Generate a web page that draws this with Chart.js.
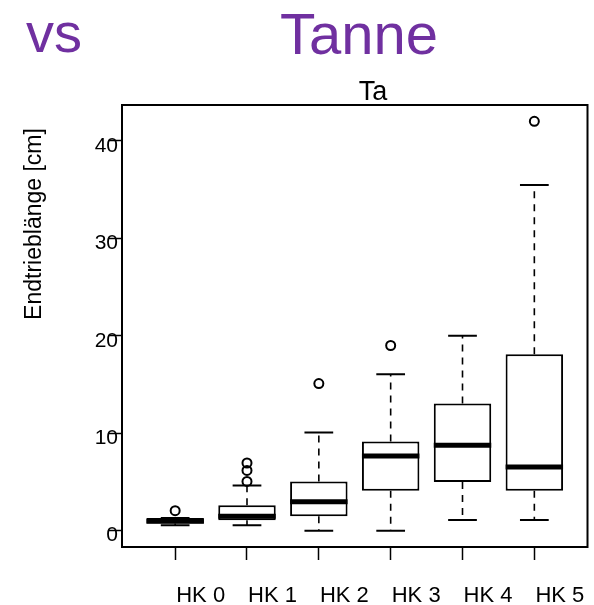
<!DOCTYPE html>
<html>
<head>
<meta charset="utf-8">
<script src="https://cdn.jsdelivr.net/npm/chart.js@4"></script>
<style>
  html, body { margin: 0; padding: 0; background: #fff; }
  #wrap { width: 594px; height: 605px; }
</style>
</head>
<body>
<div id="wrap"><canvas id="boxChart" width="594" height="605"></canvas></div>
<script>
  "use strict";

  const categories = ["HK 0", "HK 1", "HK 2", "HK 3", "HK 4", "HK 5"];
  const whiskerLow = [0.55, 0.55, 0, 0, 1.1, 1.1];
  const quart1 = [0.72, 1.06, 1.47, 4.1, 5.0, 4.1];
  const medians = [0.96, 1.47, 2.97, 7.65, 8.77, 6.52];
  const quart3 = [1.3, 2.6, 5.05, 9.15, 13.05, 18.1];
  const whiskerHigh = [1.3, 4.64, 10.07, 16.04, 20.0, 35.46];
  const outliers = [[2.05], [5.05, 6.18, 6.94], [15.09], [19.0], [], [42.0]];
  const yTicks = [0, 10, 20, 30, 40];

  const FONT = "'Liberation Sans', Arial, sans-serif";

  // Whisker, Median und Rahmen wie bei R-Boxplots nachzeichnen.
  const boxPartsPlugin = {
    id: "boxParts",
    afterDatasetsDraw(chart) {
      const ctx = chart.ctx;
      const xs = chart.scales.x;
      const ys = chart.scales.y;
      const bars = chart.getDatasetMeta(0).data;
      ctx.save();
      ctx.strokeStyle = "#000";
      categories.forEach((cat, i) => {
        const x = xs.getPixelForValue(i + 1);
        const half = bars[i].width / 2;
        const yHi = ys.getPixelForValue(whiskerHigh[i]);
        const yLo = ys.getPixelForValue(whiskerLow[i]);
        const yQ1 = ys.getPixelForValue(quart1[i]);
        const yQ3 = ys.getPixelForValue(quart3[i]);
        const yMed = ys.getPixelForValue(medians[i]);

        ctx.setLineDash([7, 6]);
        ctx.lineWidth = 1.6;
        ctx.beginPath();
        ctx.moveTo(x, yQ3);
        ctx.lineTo(x, yHi);
        ctx.moveTo(x, yQ1);
        ctx.lineTo(x, yLo);
        ctx.stroke();

        ctx.setLineDash([]);
        ctx.lineWidth = 2;
        ctx.beginPath();
        ctx.moveTo(x - half / 2, yHi);
        ctx.lineTo(x + half / 2, yHi);
        ctx.moveTo(x - half / 2, yLo);
        ctx.lineTo(x + half / 2, yLo);
        ctx.stroke();

        ctx.lineWidth = 5;
        ctx.beginPath();
        ctx.moveTo(x - half, yMed);
        ctx.lineTo(x + half, yMed);
        ctx.stroke();
      });

      const a = chart.chartArea;
      ctx.lineWidth = 2;
      ctx.strokeRect(a.left, a.top, a.right - a.left, a.bottom - a.top);

      ctx.fillStyle = "#000";
      ctx.textBaseline = "alphabetic";
      ctx.textAlign = "center";
      ctx.font = "27px " + FONT;
      ctx.fillText("Ta", 373, 100);

      ctx.save();
      ctx.translate(41, 224);
      ctx.rotate(-Math.PI / 2);
      ctx.font = "23px " + FONT;
      ctx.fillText("Endtrieblänge [cm]", 0, 0);
      ctx.restore();

      ctx.fillStyle = "#7030A0";
      ctx.textAlign = "left";
      ctx.font = "56px " + FONT;
      ctx.fillText("vs", 26, 52);
      ctx.font = "58px " + FONT;
      ctx.fillText("Tanne", 280, 54);
      ctx.restore();
    }
  };

  const boxData = categories.map((cat, i) => ({ x: i + 1, y: [quart1[i], quart3[i]] }));
  const outlierData = [];
  outliers.forEach((list, i) => list.forEach((v) => outlierData.push({ x: i + 1, y: v })));

  new Chart(document.getElementById("boxChart"), {
    type: "bar",
    data: {
      datasets: [
        {
          data: boxData,
          backgroundColor: "#ffffff",
          borderColor: "#000000",
          borderWidth: 2,
          borderSkipped: false,
          barPercentage: 0.8,
          categoryPercentage: 1
        },
        {
          type: "scatter",
          data: outlierData,
          pointStyle: "circle",
          pointRadius: 4.5,
          borderWidth: 2,
          borderColor: "#000000",
          backgroundColor: "rgba(0,0,0,0)"
        }
      ]
    },
    options: {
      responsive: false,
      animation: false,
      layout: { padding: { top: 105, right: 2, left: 0, bottom: 0 } },
      plugins: {
        legend: { display: false },
        tooltip: { enabled: false }
      },
      scales: {
        x: {
          type: "linear",
          min: 0.26,
          max: 6.74,
          offset: false,
          afterBuildTicks: (s) => { s.ticks = categories.map((c, i) => ({ value: i + 1 })); },
          afterFit: (s) => { s.height = 58; },
          border: { display: false },
          grid: { drawOnChartArea: false, offset: false, tickLength: 13, tickColor: "#000", tickWidth: 1.5 },
          ticks: {
            autoSkip: false,
            maxRotation: 0,
            color: "#000",
            font: { family: FONT, size: 22 },
            labelOffset: 25.5,
            padding: 23,
            callback: (v) => categories[v - 1]
          }
        },
        y: {
          min: -1.68,
          max: 43.68,
          afterBuildTicks: (s) => { s.ticks = yTicks.map((v) => ({ value: v })); },
          afterFit: (s) => { s.width = 122; },
          border: { display: false },
          grid: { drawOnChartArea: false, tickLength: 13, tickColor: "#000", tickWidth: 1.5 },
          ticks: {
            color: "#000",
            font: { family: FONT, size: 21 },
            padding: -9,
            labelOffset: 5
          }
        }
      }
    },
    plugins: [boxPartsPlugin]
  });
</script>
</body>
</html>
